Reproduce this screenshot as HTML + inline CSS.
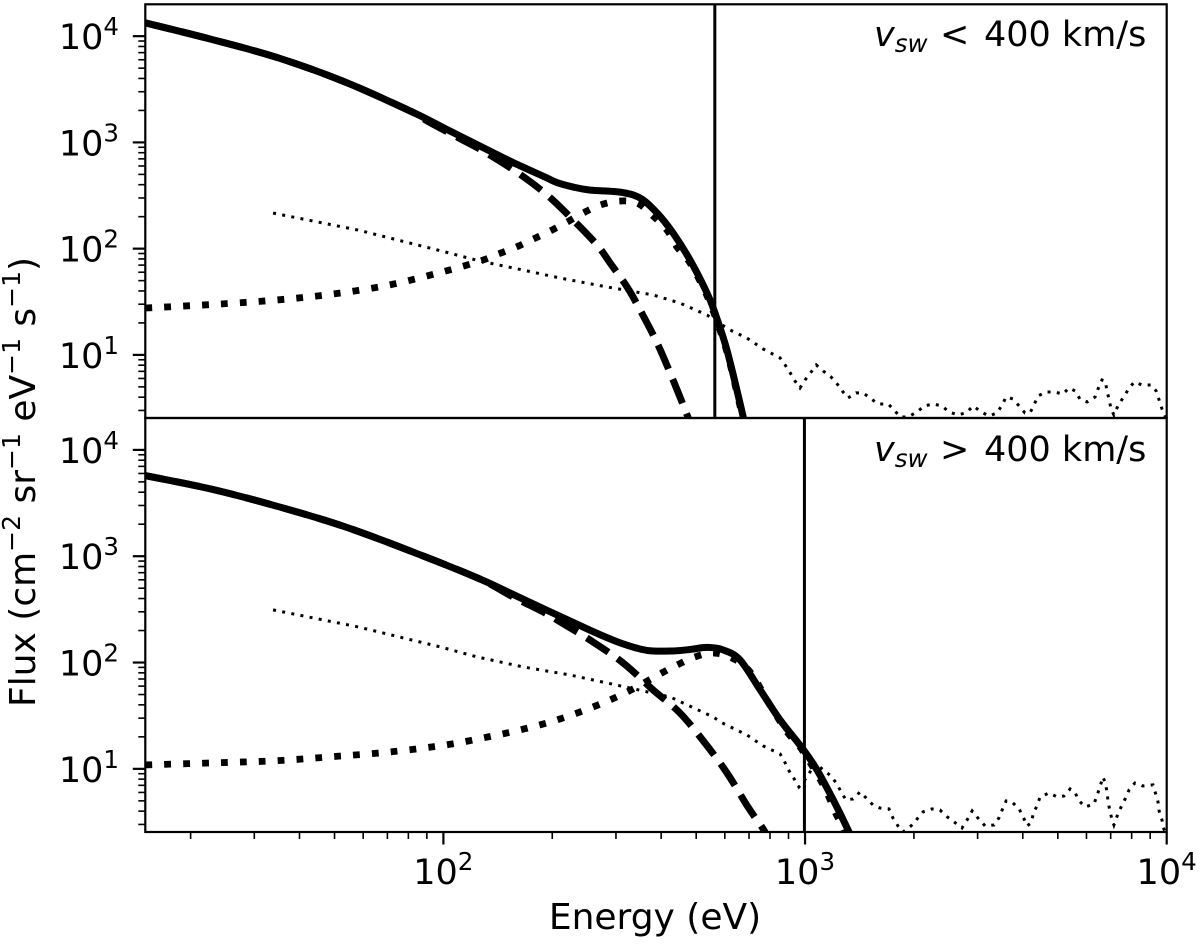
<!DOCTYPE html>
<html lang="en">
<head>
<meta charset="utf-8">
<title>Electron flux spectra by solar wind speed</title>
<style>
html,body{margin:0;padding:0;background:#fff;}
svg{display:block;}
text{font-family:"DejaVu Sans","Liberation Sans",sans-serif;fill:#000;}
</style>
</head>
<body>
<svg id="chart" xmlns="http://www.w3.org/2000/svg" width="1200" height="944" viewBox="0 0 1200 944">
  <defs>
    <clipPath id="clip-top"><rect x="145.3" y="4.3" width="1021.4" height="413.7"/></clipPath>
    <clipPath id="clip-bottom"><rect x="145.3" y="418" width="1021.4" height="414"/></clipPath>
  </defs>
  <rect x="0" y="0" width="1200" height="944" fill="#fff"/>
  <g id="marks-top" clip-path="url(#clip-top)"></g>
  <g id="marks-bottom" clip-path="url(#clip-bottom)"></g>
  <g id="axes"></g>
  <text y="46" font-size="35"><tspan x="874" font-style="italic">v</tspan><tspan font-style="italic" font-size="24.5" dy="6">sw</tspan><tspan x="940" dy="-6">&lt;</tspan><tspan x="984">400 km/s</tspan></text>
  <text y="461" font-size="35"><tspan x="874" font-style="italic">v</tspan><tspan font-style="italic" font-size="24.5" dy="6">sw</tspan><tspan x="940" dy="-6">&gt;</tspan><tspan x="984">400 km/s</tspan></text>
  <text x="655" y="929" font-size="36" text-anchor="middle">Energy (eV)</text>
  <text transform="translate(35,707) rotate(-90)" font-size="36">Flux (cm<tspan font-size="25" dy="-15">−2</tspan><tspan dy="15"> sr</tspan><tspan font-size="25" dy="-15">−1</tspan><tspan dy="15"> eV</tspan><tspan font-size="25" dy="-15">−1</tspan><tspan dy="15"> s</tspan><tspan font-size="25" dy="-15">−1</tspan><tspan dy="15">)</tspan></text>
</svg>
<script>
// All series are stored as log10(value): x is log10(Energy / eV), y is log10(Flux).
var xTickExponents = [2, 3, 4];
var yTickExponents = [1, 2, 3, 4];
var minorMultipliers = [2, 3, 4, 5, 6, 7, 8, 9];
var xLimitsLog = [1.1757, 4.0];
var yLimitsLog = [0.406, 4.3];
var cutoffEnergyTop = 563;
var cutoffEnergyBottom = 996;

var topTotalE = [1.176,1.360,1.543,1.727,1.913,2.005,2.096,2.190,2.281,2.314,2.359,2.406,2.489,2.544,2.591,2.635,2.682,2.729,2.751,2.784,2.820,2.837];
var topTotalF = [4.125,3.969,3.796,3.570,3.288,3.130,2.975,2.815,2.674,2.622,2.580,2.551,2.532,2.476,2.335,2.147,1.893,1.582,1.394,1.046,0.548,0.294];

var topCoreE = [1.176,1.360,1.543,1.727,1.913,1.958,2.041,2.115,2.207,2.287,2.359,2.425,2.461,2.508,2.544,2.591,2.635,2.677,2.688];
var topCoreF = [4.125,3.969,3.796,3.570,3.288,3.196,3.045,2.909,2.711,2.504,2.269,2.034,1.865,1.639,1.422,1.112,0.764,0.406,0.294];

var topHaloE = [1.176,1.383,1.540,1.695,1.850,1.996,2.101,2.151,2.201,2.248,2.295,2.342,2.386,2.433,2.486,2.536,2.577,2.618,2.646,2.682,2.723,2.751,2.784,2.815,2.829];
var topHaloF = [1.441,1.479,1.517,1.573,1.658,1.780,1.883,1.949,2.015,2.090,2.166,2.250,2.335,2.410,2.448,2.429,2.316,2.175,2.015,1.865,1.601,1.366,1.027,0.595,0.380];

var topMeasuredE = [1.529,1.764,1.996,2.101,2.220,2.323,2.453,2.580,2.654,2.729,2.757,2.793,2.839,2.884,2.931,2.945,2.959,2.972,2.986,3.000,3.017,3.031,3.050,3.072,3.089,3.105,3.119,3.141,3.161,3.183,3.202,3.230,3.246,3.263,3.285,3.310,3.329,3.354,3.379,3.398,3.423,3.445,3.465,3.487,3.509,3.531,3.545,3.556,3.575,3.592,3.608,3.622,3.633,3.644,3.666,3.689,3.713,3.730,3.747,3.760,3.780,3.802,3.810,3.821,3.830,3.835,3.841,3.846,3.854,3.865,3.879,3.893,3.910,3.932,3.957,3.971,3.979,3.987,4.000];
var topMeasuredF = [2.335,2.175,1.977,1.883,1.799,1.723,1.639,1.564,1.488,1.375,1.310,1.234,1.159,1.056,0.971,0.905,0.830,0.755,0.689,0.764,0.839,0.905,0.849,0.792,0.726,0.651,0.595,0.642,0.642,0.585,0.538,0.538,0.482,0.416,0.416,0.463,0.519,0.538,0.519,0.463,0.435,0.454,0.519,0.463,0.425,0.454,0.529,0.604,0.585,0.519,0.454,0.454,0.529,0.613,0.651,0.651,0.632,0.689,0.660,0.585,0.557,0.604,0.679,0.764,0.755,0.660,0.576,0.491,0.435,0.519,0.595,0.670,0.745,0.717,0.717,0.660,0.576,0.491,0.388];

var bottomTotalE = [1.176,1.360,1.543,1.727,1.913,2.096,2.190,2.281,2.359,2.425,2.497,2.563,2.635,2.682,2.729,2.773,2.820,2.876,2.931,2.995,3.033,3.078,3.119,3.130];
var bottomTotalF = [3.758,3.630,3.467,3.278,3.043,2.793,2.645,2.500,2.377,2.274,2.175,2.114,2.109,2.123,2.142,2.119,2.025,1.742,1.460,1.183,0.990,0.708,0.425,0.331];

var bottomCoreE = [1.176,1.360,1.543,1.727,1.913,2.096,2.190,2.281,2.323,2.405,2.497,2.580,2.654,2.723,2.784,2.842,2.884,2.903];
var bottomCoreF = [3.758,3.630,3.467,3.278,3.043,2.793,2.622,2.467,2.382,2.213,1.996,1.742,1.526,1.244,0.962,0.642,0.435,0.312];

var bottomHaloE = [1.176,1.383,1.540,1.695,1.853,2.007,2.110,2.212,2.314,2.414,2.508,2.599,2.646,2.696,2.746,2.798,2.848,2.903,2.950,2.986,3.036,3.064,3.083,3.105,3.119];
var bottomHaloF = [1.037,1.058,1.077,1.115,1.159,1.225,1.291,1.366,1.460,1.582,1.723,1.893,1.977,2.053,2.090,2.043,1.912,1.601,1.347,1.206,0.935,0.750,0.595,0.444,0.312];

var bottomMeasuredE = [1.529,1.764,1.991,2.093,2.220,2.350,2.502,2.627,2.746,2.771,2.839,2.884,2.931,2.945,2.956,2.970,2.983,3.006,3.028,3.050,3.072,3.086,3.100,3.113,3.133,3.152,3.169,3.188,3.207,3.232,3.243,3.257,3.271,3.293,3.310,3.326,3.351,3.373,3.393,3.412,3.434,3.448,3.462,3.478,3.498,3.523,3.536,3.545,3.556,3.572,3.592,3.603,3.614,3.625,3.631,3.642,3.650,3.675,3.697,3.716,3.733,3.747,3.758,3.775,3.799,3.808,3.816,3.824,3.830,3.835,3.838,3.843,3.849,3.854,3.863,3.874,3.885,3.896,3.912,3.934,3.962,3.968,3.976,3.979,3.987,3.992,4.000];
var bottomMeasuredF = [2.495,2.335,2.147,2.053,1.959,1.883,1.771,1.676,1.488,1.432,1.319,1.216,1.140,1.056,0.980,0.905,0.830,0.924,1.056,0.990,0.933,0.867,0.783,0.708,0.717,0.783,0.726,0.660,0.632,0.623,0.538,0.463,0.406,0.463,0.529,0.595,0.623,0.613,0.548,0.501,0.444,0.519,0.604,0.538,0.463,0.472,0.538,0.613,0.698,0.689,0.623,0.548,0.463,0.491,0.576,0.660,0.736,0.773,0.736,0.745,0.811,0.773,0.698,0.642,0.670,0.755,0.839,0.924,0.867,0.783,0.689,0.604,0.519,0.472,0.557,0.642,0.717,0.802,0.867,0.839,0.849,0.783,0.689,0.604,0.519,0.435,0.378];

var NS = 'http://www.w3.org/2000/svg';
var plotLeft = 145.3, plotRight = 1166.7;
var panelTop = { top: 4.3, bottom: 418 };
var panelHeight = { top: 413.7, bottom: 414 };

function xScale(logE) {
  return plotLeft + (logE - xLimitsLog[0]) / (xLimitsLog[1] - xLimitsLog[0]) * (plotRight - plotLeft);
}
function yScale(panel, logF) {
  return panelTop[panel] + (yLimitsLog[1] - logF) / (yLimitsLog[1] - yLimitsLog[0]) * panelHeight[panel];
}
function make(tag, attrs, parent) {
  var el = document.createElementNS(NS, tag);
  for (var k in attrs) { el.setAttribute(k, attrs[k]); }
  parent.appendChild(el);
  return el;
}
function straightPath(panel, es, fs) {
  var d = '';
  for (var i = 0; i < es.length; i++) {
    d += (i ? 'L' : 'M') + xScale(es[i]).toFixed(2) + ' ' + yScale(panel, fs[i]).toFixed(2);
  }
  return d;
}
function smoothPath(panel, es, fs) {
  var p = [];
  for (var i = 0; i < es.length; i++) { p.push([xScale(es[i]), yScale(panel, fs[i])]); }
  var d = 'M' + p[0][0].toFixed(2) + ' ' + p[0][1].toFixed(2);
  for (var j = 0; j < p.length - 1; j++) {
    var a = p[Math.max(j - 1, 0)], b = p[j], c = p[j + 1], e = p[Math.min(j + 2, p.length - 1)];
    d += 'C' + (b[0] + (c[0] - a[0]) / 6).toFixed(2) + ' ' + (b[1] + (c[1] - a[1]) / 6).toFixed(2) + ' ' +
         (c[0] - (e[0] - b[0]) / 6).toFixed(2) + ' ' + (c[1] - (e[1] - b[1]) / 6).toFixed(2) + ' ' +
         c[0].toFixed(2) + ' ' + c[1].toFixed(2);
  }
  return d;
}

var styleMeasured = { stroke: '#000', fill: 'none', 'stroke-width': 3, 'stroke-dasharray': '3 6.3' };
var styleTotal = { stroke: '#000', fill: 'none', 'stroke-width': 7 };
var styleCore = { stroke: '#000', fill: 'none', 'stroke-width': 7, 'stroke-dasharray': '26 11' };
var styleHalo = { stroke: '#000', fill: 'none', 'stroke-width': 6.8, 'stroke-dasharray': '6.8 12.1' };

function drawPanel(panel, group, mE, mF, tE, tF, cE, cF, hE, hF, cutoff, coreOffset) {
  var attrs;
  attrs = Object.assign({ d: straightPath(panel, mE, mF) }, styleMeasured);
  var measured = make('path', attrs, group);
  
  

  attrs = Object.assign({ d: smoothPath(panel, hE, hF) }, styleHalo);
  var halo = make('path', attrs, group);
  
  

  attrs = Object.assign({ d: smoothPath(panel, cE, cF), 'stroke-dashoffset': coreOffset }, styleCore);
  var core = make('path', attrs, group);
  
  

  attrs = Object.assign({ d: smoothPath(panel, tE, tF) }, styleTotal);
  var total = make('path', attrs, group);
  
  

  var cx = xScale(Math.log10(cutoff));
  var cut = make('line', { x1: cx, x2: cx, y1: panelTop[panel], y2: panelTop[panel] + panelHeight[panel], stroke: '#000', 'stroke-width': 3 }, group);
  
  
}

drawPanel('top', document.getElementById('marks-top'), topMeasuredE, topMeasuredF, topTotalE, topTotalF, topCoreE, topCoreF, topHaloE, topHaloF, cutoffEnergyTop, 0);
drawPanel('bottom', document.getElementById('marks-bottom'), bottomMeasuredE, bottomMeasuredF, bottomTotalE, bottomTotalF, bottomCoreE, bottomCoreF, bottomHaloE, bottomHaloF, cutoffEnergyBottom, 8);

var axes = document.getElementById('axes');

function powerLabel(x, y, exp, name) {
  var t = make('text', { x: x, y: y, 'font-size': 35, 'text-anchor': 'end' }, axes);
  
  
  t.appendChild(document.createTextNode('10'));
  var s = make('tspan', { 'font-size': 24.5, dy: -14 }, t);
  s.textContent = String(exp);
}

['top', 'bottom'].forEach(function (panel) {
  var frame = make('rect', { x: plotLeft, y: panelTop[panel], width: plotRight - plotLeft, height: panelHeight[panel], fill: 'none', stroke: '#000', 'stroke-width': 2.2 }, axes);
  
  

  yTickExponents.forEach(function (exp) {
    var y = yScale(panel, exp);
    var tick = make('line', { x1: plotLeft - 12.5, x2: plotLeft, y1: y, y2: y, stroke: '#000', 'stroke-width': 2.2 }, axes);
    
    
    powerLabel(119, y + 13, exp, panel + '-y-tick-label');
  });
  for (var d = 0; d <= 4; d++) {
    minorMultipliers.forEach(function (m) {
      var lf = d + Math.log10(m);
      if (lf < yLimitsLog[0] || lf > yLimitsLog[1]) { return; }
      var y = yScale(panel, lf);
      var tick = make('line', { x1: plotLeft - 7, x2: plotLeft, y1: y, y2: y, stroke: '#000', 'stroke-width': 1.6 }, axes);
      
      
    });
  }
});

var axisBottom = panelTop.bottom + panelHeight.bottom;
xTickExponents.forEach(function (exp) {
  var x = xScale(exp);
  var tick = make('line', { x1: x, x2: x, y1: axisBottom, y2: axisBottom + 12.5, stroke: '#000', 'stroke-width': 2.2 }, axes);
  
  
  powerLabel(x + 30, 884, exp, 'x-tick-label');
});
for (var dx = 1; dx <= 3; dx++) {
  minorMultipliers.forEach(function (m) {
    var le = dx + Math.log10(m);
    if (le < xLimitsLog[0] || le > xLimitsLog[1]) { return; }
    var x = xScale(le);
    var tick = make('line', { x1: x, x2: x, y1: axisBottom, y2: axisBottom + 7, stroke: '#000', 'stroke-width': 1.6 }, axes);
    
    
  });
}
</script>
</body>
</html>
